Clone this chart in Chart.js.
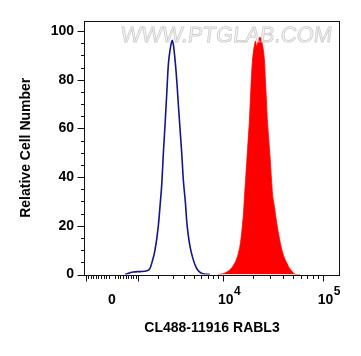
<!DOCTYPE html>
<html><head><meta charset="utf-8">
<script src="https://cdn.jsdelivr.net/npm/chart.js@4.4.1/dist/chart.umd.min.js"></script>
<style>html,body{margin:0;padding:0;background:#fff}</style>
</head><body>
<canvas id="c" width="361" height="356"></canvas>
<script>
// ---- data (intensity on the FL channel, relative cell number) ----
const controlIntensity = [475, 551, 786, 1079, 1401, 1548, 1653, 1814, 2003, 2103, 2210, 2313, 2427, 2543, 2645, 2767, 2864, 2938, 3033, 3177, 3322, 3430, 3579, 3735, 3887, 4105, 4227, 4397, 4638, 4964, 5297, 5597, 5970, 6411, 7387];
const controlCount     = [0, 0.3, 1.0, 1.2, 1.5, 2.5, 5, 10, 20, 28, 37, 50, 62, 75, 86, 92, 95, 96.2, 94, 87, 78, 70, 60, 50, 39, 29, 22, 16, 10.5, 6, 3, 1.5, 0.6, 0.2, 0];
const stainedIntensity = [8909, 10250, 11327, 12345, 13233, 14023, 14621, 15101, 15454, 16040, 16414, 16872, 17351, 17880, 18426, 18812, 19164, 19613, 20163, 20776, 21261, 21910, 22629, 23479, 24308, 24990, 25572, 26170, 26780, 27404, 27912, 28832, 29708, 30612, 31615, 32957, 33882, 35976, 38903, 41022, 43659, 46030, 48985, 52859, 59317];
const stainedCount     = [0, 0.4, 1.4, 2.9, 4.8, 7.4, 10.3, 13.6, 17.2, 24.0, 30.9, 38.3, 46.0, 54.3, 62.4, 70.0, 77.5, 85.2, 90.9, 94.2, 95.9, 93.5, 95.9, 97.5, 96.7, 94.2, 91.8, 87.7, 79.0, 71.2, 63.8, 55.8, 48.7, 40.3, 32.2, 27.6, 24.0, 17.2, 10.3, 7.2, 4.8, 2.9, 1.4, 0, 0];

// ---- axes ----
const yTickValues = [0, 20, 40, 60, 80, 100];
const yMinorStep = 5;
const xTickValues = [0, 10000, 100000];
const xTickBase = ['0', '10', '10'];
const xTickExp = ['', '4', '5'];
const xMajorTickValues = [-1000, 1000, 10000, 100000];
const xMinorMultipliers = [1, 2, 3, 4, 5, 6, 7, 8, 9];
const xMinorDecades = [100, 1000, 10000];
const xRange = [-1080, 149000];
const yRange = [0, 104.1];
const xAxisTitle = 'CL488-11916 RABL3';
const yAxisTitle = 'Relative Cell Number';
const watermarkText = 'WWW.PTGLAB.COM';
const COFACTOR = 1564;
const disp = v => Math.asinh(v / COFACTOR) / Math.LN10;

const toPts = (xs, ys) => xs.map((v, i) => ({x: disp(v), y: ys[i]}));

const FONT = '"Liberation Sans", Arial, sans-serif';

const axisPlugin = {
  id: 'axisDeco',
  afterDatasetsDraw(chart) {
    const ctx = chart.ctx;
    // watermark
    ctx.save();
    ctx.font = '22px ' + FONT;
    ctx.textBaseline = 'alphabetic';
    ctx.textAlign = 'left';
    ctx.fillStyle = 'rgba(240,240,240,0.55)';
    ctx.strokeStyle = 'rgba(185,185,185,0.75)';
    ctx.lineWidth = 0.8;
    ctx.setTransform(1, 0, -0.12, 1, 0, 0);
    const wx = 120 + 0.12 * 42;
    ctx.fillText(watermarkText, wx, 42);
    ctx.strokeText(watermarkText, wx, 42);
    ctx.restore();
  },
  afterDraw(chart) {
    const ctx = chart.ctx, a = chart.chartArea;
    const xs = chart.scales.x, ys = chart.scales.y;
    ctx.save();
    ctx.strokeStyle = '#111';
    ctx.lineWidth = 1;
    // frame
    ctx.strokeRect(Math.round(a.left) + 0.5, Math.round(a.top) + 0.5,
                   Math.round(a.right - a.left) - 1, Math.round(a.bottom - a.top));
    // y ticks
    const yl = Math.round(a.left) + 0.5;
    for (let v = yRange[0]; v <= 100; v += yMinorStep) {
      const py = Math.round(ys.getPixelForValue(v)) + 0.5;
      const major = yTickValues.includes(v);
      ctx.beginPath();
      ctx.moveTo(yl - (major ? 7 : 3.5), py);
      ctx.lineTo(yl, py);
      ctx.stroke();
    }
    // x ticks
    const by = Math.round(a.bottom) + 0.5;
    const drawX = (val, len) => {
      const px = xs.getPixelForValue(disp(val));
      if (px < a.left - 0.5 || px > a.right + 0.5) return;
      const rx = Math.round(px) + 0.5;
      ctx.beginPath();
      ctx.moveTo(rx, by);
      ctx.lineTo(rx, by + len);
      ctx.stroke();
    };
    xMinorDecades.forEach(d => xMinorMultipliers.forEach(m => {
      drawX(m * d, 3.5);
      if (d < 1000) drawX(-m * d, 3.5);
    }));
    xMajorTickValues.forEach(v => drawX(v, 6));
    // x tick labels
    ctx.fillStyle = '#000';
    ctx.textBaseline = 'alphabetic';
    xTickValues.forEach((v, i) => {
      const px = xs.getPixelForValue(disp(v));
      ctx.font = 'bold 14px ' + FONT;
      if (!xTickExp[i]) {
        ctx.textAlign = 'center';
        ctx.fillText(xTickBase[i], px, 304);
      } else {
        ctx.textAlign = 'left';
        const x0 = px - 5;
        ctx.fillText(xTickBase[i], x0, 304);
        const w = ctx.measureText(xTickBase[i]).width;
        ctx.font = 'bold 12px ' + FONT;
        ctx.fillText(xTickExp[i], x0 + w + 0.5, 295);
      }
    });
    ctx.restore();
  }
};

new Chart(document.getElementById('c'), {
  type: 'line',
  data: {
    datasets: [
      {
        label: 'Control',
        data: toPts(controlIntensity, controlCount),
        borderColor: '#14148c',
        borderWidth: 1.6,
        pointRadius: 0,
        fill: false,
        cubicInterpolationMode: 'monotone',
        order: 1
      },
      {
        label: 'RABL3',
        data: toPts(stainedIntensity, stainedCount),
        borderColor: 'rgba(255,0,0,1)',
        backgroundColor: 'rgb(255,0,0)',
        borderWidth: 0.8,
        pointRadius: 0,
        fill: 'origin',
        tension: 0.2,
        order: 2
      }
    ]
  },
  options: {
    responsive: false,
    animation: false,
    devicePixelRatio: 1,
    layout: {padding: {left: 0, right: 21, top: 21, bottom: 0}},
    plugins: {legend: {display: false}, tooltip: {enabled: false}},
    scales: {
      x: {
        type: 'linear',
        min: disp(xRange[0]),
        max: disp(xRange[1]),
        grid: {display: false, drawTicks: false},
        border: {display: false},
        ticks: {display: false},
        title: {display: true, text: xAxisTitle, color: '#000',
                font: {family: FONT, size: 14, weight: 'bold'},
                padding: {top: 0, bottom: 19}},
        afterFit: s => { s.height = 81.5; }
      },
      y: {
        type: 'linear',
        min: yRange[0],
        max: yRange[1],
        afterBuildTicks: s => { s.ticks = yTickValues.map(v => ({value: v})); },
        grid: {display: false, drawTicks: false},
        border: {display: false},
        ticks: {color: '#000', padding: 10, font: {family: FONT, size: 14, weight: 'bold'}},
        title: {display: true, text: yAxisTitle, color: '#000',
                font: {family: FONT, size: 14, weight: 'bold'},
                padding: {top: 18, bottom: 0}},
        afterFit: s => { s.width = 84; }
      }
    }
  },
  plugins: [axisPlugin]
});
</script>
</body></html>
